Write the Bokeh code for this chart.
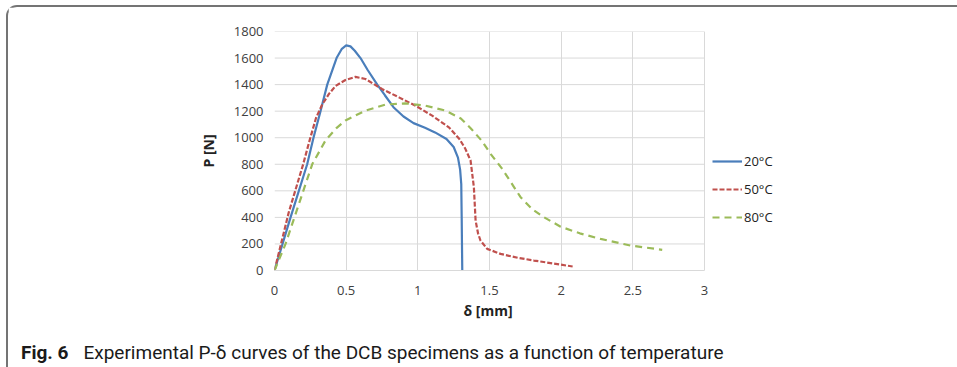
from bokeh.plotting import figure
from bokeh.layouts import column
from bokeh.models import Range1d, Legend, LegendItem, FixedTicker, Div, Title
from bokeh.embed import file_html
from bokeh.resources import INLINE

# ---- data ----
x_20 = [0, 0.112, 0.228, 0.272, 0.321, 0.368, 0.433, 0.47, 0.50, 0.53, 0.56, 0.60, 0.65, 0.717,
        0.77, 0.83, 0.90, 0.97, 1.05, 1.12, 1.20, 1.25, 1.28, 1.295, 1.303, 1.306, 1.31]
p_20 = [0, 400, 800, 1000, 1200, 1400, 1600, 1670, 1695, 1688, 1655, 1600, 1510, 1400,
        1320, 1230, 1160, 1110, 1075, 1040, 990, 930, 850, 760, 650, 400, 0]

x_50 = [0, 0.1, 0.2, 0.245, 0.29, 0.333, 0.38, 0.426, 0.495, 0.565, 0.635, 0.75, 0.868,
        0.984, 1.10, 1.217, 1.29, 1.33, 1.368, 1.391, 1.403, 1.42, 1.437, 1.484, 1.577, 1.70,
        1.81, 1.95, 2.08]
p_50 = [0, 440, 800, 980, 1150, 1250, 1330, 1390, 1435, 1458, 1442, 1367, 1304,
        1241, 1166, 1078, 990, 920, 828, 627, 376, 280, 226, 163, 125, 95,
        75, 52, 30]

x_80 = [0, 0.077, 0.17, 0.263, 0.356, 0.43, 0.495, 0.635, 0.775, 0.914, 1.054, 1.193, 1.30,
        1.37, 1.445, 1.51, 1.589, 1.717, 1.80, 1.88, 1.996, 2.13, 2.275, 2.484, 2.705]
p_80 = [0, 200, 500, 800, 980, 1070, 1130, 1204, 1250, 1259, 1241, 1204, 1145,
        1070, 978, 875, 765, 552, 460, 401, 330, 280, 238, 188, 156]

series_names = ["20°C", "50°C", "80°C"]
x_ticks = [0, 0.5, 1, 1.5, 2, 2.5, 3]
x_tick_labels = ["0", "0.5", "1", "1.5", "2", "2.5", "3"]
y_ticks = [0, 200, 400, 600, 800, 1000, 1200, 1400, 1600, 1800]
x_max, y_max = 3, 1800
x_title = "δ [mm]"
y_title = "P [N]"
caption_bold = "Fig. 6"
caption_text = "Experimental P-δ curves of the DCB specimens as a function of temperature"

FONT = "Open Sans"
W = 949
LEFT = 266
PLOT_PX = 430                       # pixel width of the 0..3 data area
FRAME_PX = W - LEFT                 # frame extends to the right edge (room for the legend)
x_end = x_max * FRAME_PX / PLOT_PX

p = figure(width=W, height=330, output_backend="svg", toolbar_location=None,
           x_range=Range1d(0, x_end), y_range=Range1d(0, y_max),
           min_border_left=LEFT, min_border_right=0, min_border_top=24, min_border_bottom=67)
p.outline_line_color = None
p.background_fill_color = "white"
p.border_fill_color = "white"

p.xgrid.ticker = FixedTicker(ticks=x_ticks)
p.xgrid.grid_line_color = "#d9d9d9"
p.xgrid.grid_line_width = 1
p.ygrid.visible = False
# horizontal gridlines limited to the 0..3 plot area
p.segment(x0=[0] * len(y_ticks), x1=[x_max] * len(y_ticks), y0=y_ticks, y1=y_ticks,
          line_color="#d9d9d9", line_width=1)

xa = p.xaxis[0]
xa.ticker = FixedTicker(ticks=x_ticks)
xa.bounds = (0, x_max)
xa.major_label_overrides = {t: l for t, l in zip(x_ticks, x_tick_labels)}
xa.axis_line_color = "#d9d9d9"
xa.major_tick_line_color = None
xa.minor_tick_line_color = None
xa.major_tick_out = 0
xa.major_label_standoff = 15
xa.major_label_text_font = FONT
xa.major_label_text_font_size = "13px"
xa.major_label_text_color = "#404040"

# x-axis title, centred under the 0..3 area
p.add_layout(Title(text=x_title, align="left", offset=189, standoff=3,
                   text_font=FONT, text_font_size="14px", text_font_style="bold",
                   text_color="#222222"), "below")

ya = p.yaxis[0]
ya.ticker = FixedTicker(ticks=y_ticks)
ya.axis_line_color = None
ya.major_tick_line_color = None
ya.minor_tick_line_color = None
ya.major_tick_out = 0
ya.major_label_standoff = 11
ya.major_label_text_font = FONT
ya.major_label_text_font_size = "13px"
ya.major_label_text_color = "#404040"
ya.axis_label = y_title
ya.axis_label_text_font = FONT
ya.axis_label_text_font_size = "14px"
ya.axis_label_text_font_style = "bold"
ya.axis_label_text_color = "#222222"
ya.axis_label_standoff = 13

r20 = p.line(x_20, p_20, line_color="#4a7ebb", line_width=2.2)
r50 = p.line(x_50, p_50, line_color="#c0504d", line_width=2.2, line_dash="5 2")
r80 = p.line(x_80, p_80, line_color="#9bbb59", line_width=2.2, line_dash="7 5")

legend = Legend(items=[LegendItem(label=series_names[0], renderers=[r20]),
                       LegendItem(label=series_names[1], renderers=[r50]),
                       LegendItem(label=series_names[2], renderers=[r80])],
                location=(438, 43), orientation="vertical",
                glyph_width=30, glyph_height=20, label_height=20, spacing=8,
                label_standoff=2, padding=0, margin=0,
                border_line_color=None, background_fill_alpha=0,
                label_text_font=FONT, label_text_font_size="13px",
                label_text_color="#222222")
p.add_layout(legend)

caption = Div(text=('<div style="font-family:Roboto;font-size:19px;line-height:22px;'
                    'color:#1a1a1a;padding-left:8px;white-space:nowrap">'
                    f'<b>{caption_bold}</b><span style="margin-left:15px">{caption_text}</span></div>'),
              width=W, height=28)

layout = column(p, caption, spacing=0,
                styles={"margin-left": "6px", "margin-top": "5px",
                        "border-top": "2px solid #747474", "border-left": "2px solid #747474",
                        "border-top-left-radius": "11px"})

open("out.html", "w").write(file_html(layout, INLINE))
